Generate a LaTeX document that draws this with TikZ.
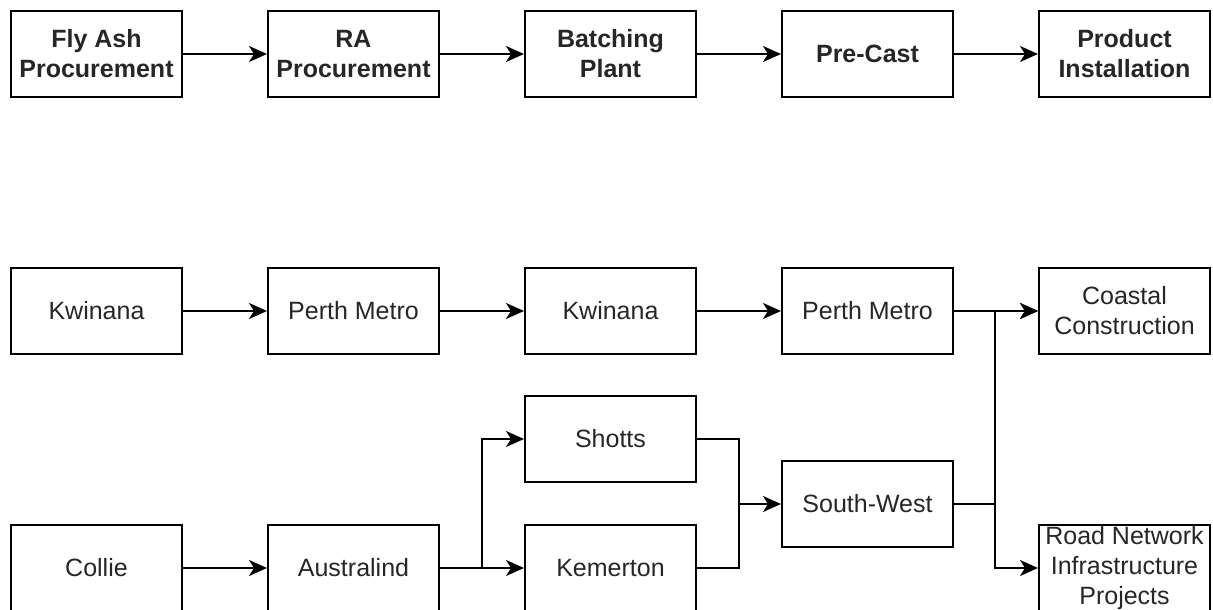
\documentclass[tikz,border=0pt]{standalone}
\usepackage{fontspec}
\setmainfont{Liberation Sans}
\usetikzlibrary{arrows.meta}
\begin{document}
\begin{tikzpicture}[x=1pt,y=-1pt,
  box/.style={draw=black,line width=2pt,minimum width=171pt,minimum height=86pt,
    inner sep=0pt,align=center,text=black!85,font=\fontsize{25}{30}\selectfont},
  hbox/.style={box,font=\fontsize{25}{30}\selectfont\bfseries},
  flow/.style={draw=black,line width=2pt,-{Stealth[length=18pt,width=16pt,inset=5pt]}},
  link/.style={draw=black,line width=2pt}]
\useasboundingbox (0,0) rectangle (1213,610);

% stage headings
\node[hbox] (fly)  at (96.5,54)   {Fly Ash\\Procurement};
\node[hbox] (ra)   at (353.5,54)  {RA\\Procurement};
\node[hbox] (bat)  at (610.5,54)  {Batching\\Plant};
\node[hbox] (pre)  at (867.5,54)  {Pre-Cast};
\node[hbox] (inst) at (1124.5,54) {Product\\Installation};

% metro chain
\node[box] (kw1)   at (96.5,311)   {Kwinana};
\node[box] (pm1)   at (353.5,311)  {Perth Metro};
\node[box] (kw2)   at (610.5,311)  {Kwinana};
\node[box] (pm2)   at (867.5,311)  {Perth Metro};
\node[box] (coast) at (1124.5,311) {Coastal\\Construction};

% south-west chain
\node[box] (col)  at (96.5,568)   {Collie};
\node[box] (aus)  at (353.5,568)  {Australind};
\node[box] (sho)  at (610.5,439)  {Shotts};
\node[box] (kem)  at (610.5,568)  {Kemerton};
\node[box] (sw)   at (867.5,504)  {South-West};
\node[box] (road) at (1124.5,568) {Road Network\\Infrastructure\\Projects};

% junction columns
\coordinate (jsplit) at (482,568);
\coordinate (jmerge) at (739,504);
\coordinate (jout)   at (995,504);

% top row arrows
\draw[flow] (fly) -- (ra);
\draw[flow] (ra) -- (bat);
\draw[flow] (bat) -- (pre);
\draw[flow] (pre) -- (inst);

% metro arrows
\draw[flow] (kw1) -- (pm1);
\draw[flow] (pm1) -- (kw2);
\draw[flow] (kw2) -- (pm2);
\draw[flow] (pm2) -- (coast);

% south-west arrows
\draw[flow] (col) -- (aus);
\draw[flow] (aus) -- (kem);
\draw[flow] (jsplit) |- (sho.west);
\draw[link] (sho.east) -| (jmerge);
\draw[link] (kem.east) -| (jmerge);
\draw[flow] (jmerge) -- (sw.west);
\draw[link] (sw.east) -- (jout);
\draw[flow] (jout) |- (coast.west);
\draw[flow] (jout) |- (road.west);
\end{tikzpicture}
\end{document}
